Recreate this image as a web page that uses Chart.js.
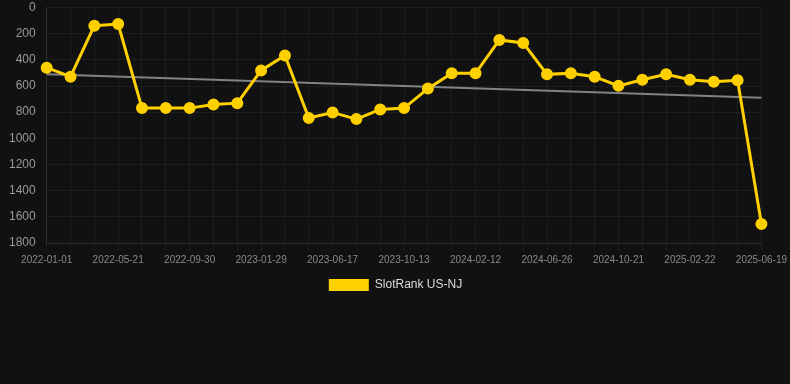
<!DOCTYPE html>
<html><head><meta charset="utf-8">
<script src="https://cdn.jsdelivr.net/npm/chart.js@4/dist/chart.umd.min.js"></script>
<style>
html,body{margin:0;padding:0;background:#111111;width:790px;height:384px;overflow:hidden;}
#wrap{position:relative;width:790px;height:301px;}
</style></head>
<body>
<div id="wrap"><canvas id="c"></canvas></div>
<script>
const categories = ["2022-01-01","2022-02-16","2022-04-04","2022-05-21","2022-07-03","2022-08-16","2022-09-30","2022-11-09","2022-12-20","2023-01-29","2023-03-17","2023-05-02","2023-06-17","2023-07-26","2023-09-04","2023-10-13","2023-11-22","2024-01-02","2024-02-12","2024-03-27","2024-05-12","2024-06-26","2024-08-04","2024-09-12","2024-10-21","2024-12-01","2025-01-11","2025-02-22","2025-04-05","2025-05-12","2025-06-19"];
const rankValues = [460,529,139,127,769,769,769,741,731,481,367,845,802,853,779,769,620,503,503,248,271,511,503,529,599,552,511,552,567,556,1654];
const trendValues = [511, 690]; // start and end of trend line
const yTicks = [0,200,400,600,800,1000,1200,1400,1600,1800];

const trendData = categories.map((_, i) => i === 0 ? trendValues[0] : (i === categories.length - 1 ? trendValues[1] : null));

new Chart(document.getElementById('c'), {
  type: 'line',
  data: {
    labels: categories,
    datasets: [
      {
        label: 'SlotRank US-NJ',
        data: rankValues,
        borderColor: '#FFD000',
        backgroundColor: '#FFD000',
        borderWidth: 3,
        pointRadius: 4.5,
        pointBackgroundColor: '#FFD000',
        pointBorderColor: '#FFD000',
        tension: 0,
        order: 1
      },
      {
        label: 'trend',
        data: trendData,
        borderColor: 'rgba(150,150,150,0.85)',
        borderWidth: 2,
        pointRadius: 0,
        spanGaps: true,
        order: 2
      }
    ]
  },
  options: {
    responsive: true,
    maintainAspectRatio: false,
    animation: false,
    layout: { padding: { top: 0, right: 5, left: 6, bottom: 0 } },
    plugins: {
      legend: {
        position: 'bottom',
        labels: {
          color: '#dddddd',
          font: { family: 'Liberation Sans, Arial, sans-serif', size: 12 },
          boxWidth: 40,
          boxHeight: 12,
          filter: (item) => item.text !== 'trend',
          generateLabels: (chart) => Chart.defaults.plugins.legend.labels.generateLabels(chart).map(l => ({...l, lineWidth: 0}))
        }
      },
      tooltip: { enabled: false }
    },
    scales: {
      x: {
        grid: { color: 'rgba(255,255,255,0.05)' },
        border: { color: 'rgba(255,255,255,0.08)' },
        ticks: {
          color: '#888888',
          font: { family: 'Liberation Sans, Arial, sans-serif', size: 10 },
          autoSkip: false,
          maxRotation: 0,
          callback: function(v, i) { return i % 3 === 0 ? categories[i] : ''; }
        }
      },
      y: {
        reverse: true,
        min: yTicks[0],
        max: yTicks[yTicks.length - 1],
        grid: { color: 'rgba(255,255,255,0.05)', tickColor: 'rgba(0,0,0,0)' },
        border: { color: 'rgba(255,255,255,0.08)' },
        afterBuildTicks: (axis) => { axis.ticks = yTicks.map(v => ({ value: v })); },
        ticks: {
          color: '#999999',
          font: { family: 'Liberation Sans, Arial, sans-serif', size: 12, lineHeight: 0.6 },
          callback: (v) => String(v)
        }
      }
    }
  }
});
</script>
</body></html>
